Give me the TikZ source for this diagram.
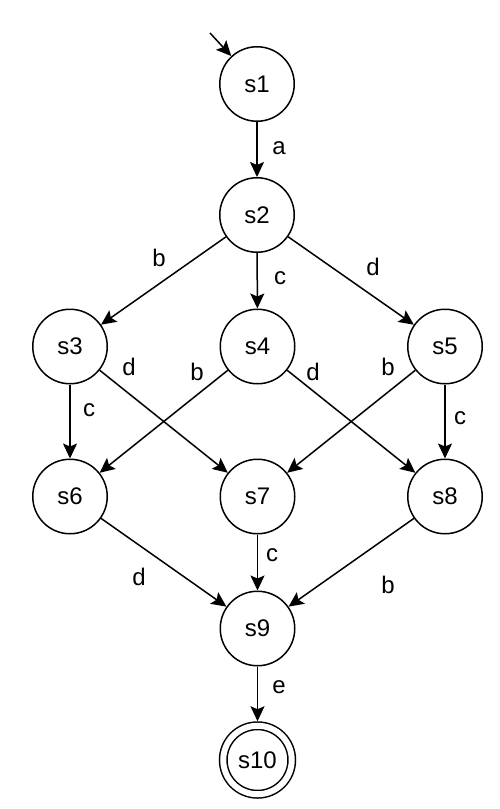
\documentclass[tikz,border=0pt]{standalone}
\usepackage{fontspec}
\setmainfont{Liberation Sans}
\usetikzlibrary{arrows.meta}
\begin{document}
\begin{tikzpicture}[x=1pt,y=-1pt,
  state/.style={circle,draw,line width=1.5pt,minimum size=74.5pt,inner sep=0pt,font=\fontsize{24}{28}\selectfont},
  final/.style={circle,draw,line width=1.5pt,double,double distance=6pt,minimum size=68.5pt,inner sep=0pt,outer sep=4.5pt,font=\fontsize{24}{28}\selectfont},
  lbl/.style={inner sep=0pt,font=\fontsize{24}{28}\selectfont},
  tr/.style={line width=1.5pt,-{Stealth[length=15pt,width=14pt,inset=3pt]}}]
\useasboundingbox (0,0) rectangle (500,809);
\node[state] (s1) at (257,84) {s1};
\node[state] (s2) at (257,215) {s2};
\node[state] (s3) at (70,346.5) {s3};
\node[state] (s4) at (257.5,346.5) {s4};
\node[state] (s5) at (445,346.5) {s5};
\node[state] (s6) at (70,496.5) {s6};
\node[state] (s7) at (257.5,496.5) {s7};
\node[state] (s8) at (445,496.5) {s8};
\node[state] (s9) at (257.5,628.5) {s9};
\node[final] (s10) at (257.5,760) {s10};
\coordinate (init) at (210,33);
\draw[tr] (init) -- (s1);
\draw[tr] (s1) -- (s2);
\draw[tr] (s2) -- (s3);
\draw[tr] (s2) -- (s4);
\draw[tr] (s2) -- (s5);
\draw[tr] (s3) -- (s6);
\draw[tr] (s3) -- (s7);
\draw[tr] (s4) -- (s6);
\draw[tr] (s4) -- (s8);
\draw[tr] (s5) -- (s7);
\draw[tr] (s5) -- (s8);
\draw[tr] (s6) -- (s9);
\draw[tr] (s7) -- (s9);
\draw[tr] (s8) -- (s9);
\draw[tr] (s9) -- (s10);
\node[lbl] (la) at (279,148) {a};
\node[lbl] (lb1) at (159,258) {b};
\node[lbl] (lc1) at (280,278) {c};
\node[lbl] (ld1) at (373,267) {d};
\node[lbl] (ld2) at (129,367) {d};
\node[lbl] (lb2) at (197,372) {b};
\node[lbl] (ld3) at (313,372) {d};
\node[lbl] (lb3) at (388,367) {b};
\node[lbl] (lc2) at (89,410) {c};
\node[lbl] (lc3) at (460,418) {c};
\node[lbl] (lc4) at (272,555) {c};
\node[lbl] (ld4) at (139,577) {d};
\node[lbl] (lb4) at (388,585) {b};
\node[lbl] (le) at (279,687) {e};
\end{tikzpicture}
\end{document}
